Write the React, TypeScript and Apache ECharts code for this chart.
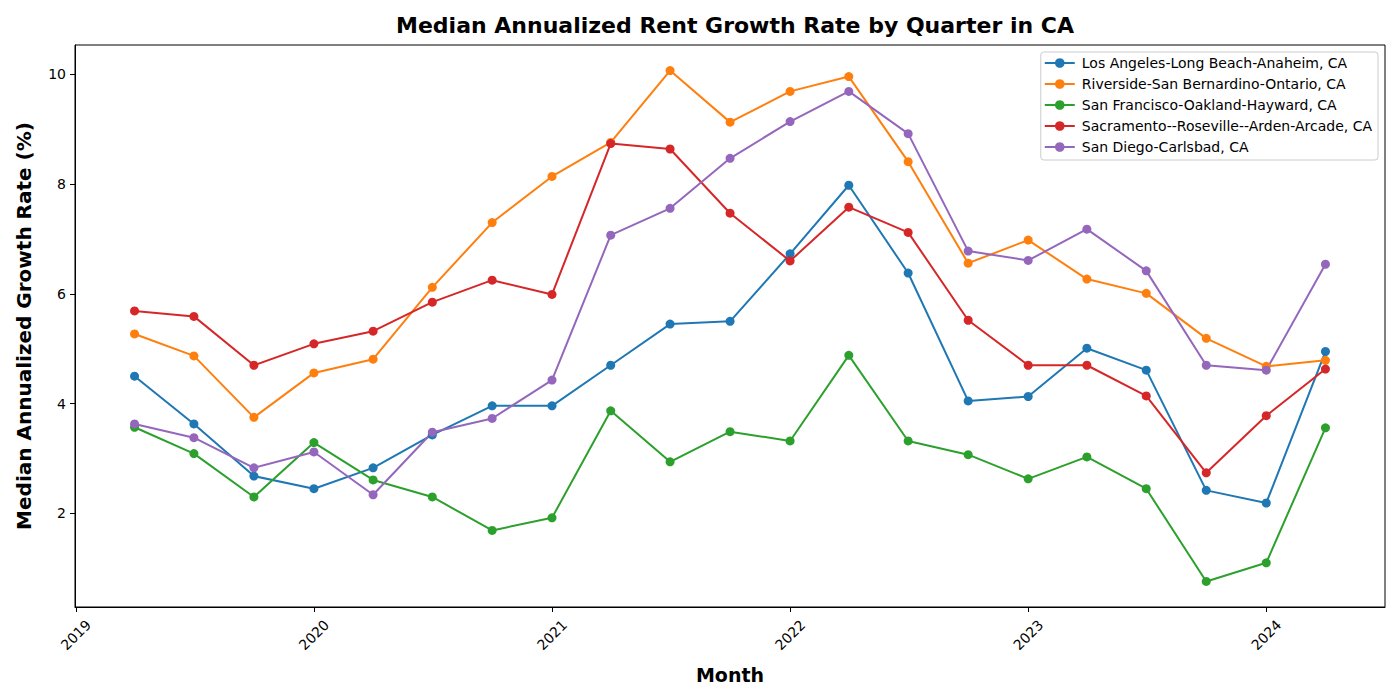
import React, { useEffect, useRef } from "react";
import * as echarts from "echarts";

const quarters = [
  "2019-04-01", "2019-07-01", "2019-10-01", "2020-01-01", "2020-04-01", "2020-07-01", "2020-10-01",
  "2021-01-01", "2021-04-01", "2021-07-01", "2021-10-01", "2022-01-01", "2022-04-01", "2022-07-01",
  "2022-10-01", "2023-01-01", "2023-04-01", "2023-07-01", "2023-10-01", "2024-01-01", "2024-04-01",
];

const seriesNames = [
  "Los Angeles-Long Beach-Anaheim, CA",
  "Riverside-San Bernardino-Ontario, CA",
  "San Francisco-Oakland-Hayward, CA",
  "Sacramento--Roseville--Arden-Arcade, CA",
  "San Diego-Carlsbad, CA",
];

const losAngeles = [4.50, 3.63, 2.68, 2.45, 2.83, 3.43, 3.96, 3.96, 4.70, 5.45, 5.50, 6.73, 7.98, 6.38, 4.05, 4.13, 5.01, 4.61, 2.42, 2.19, 4.95];
const riverside = [5.27, 4.87, 3.75, 4.56, 4.81, 6.12, 7.30, 8.14, 8.76, 10.07, 9.13, 9.69, 9.96, 8.41, 6.56, 6.98, 6.27, 6.01, 5.19, 4.68, 4.79];
const sanFrancisco = [3.57, 3.09, 2.30, 3.29, 2.61, 2.30, 1.69, 1.92, 3.87, 2.94, 3.49, 3.32, 4.88, 3.32, 3.07, 2.63, 3.03, 2.45, 0.76, 1.10, 3.56];
const sacramento = [5.69, 5.59, 4.70, 5.09, 5.32, 5.85, 6.25, 5.99, 8.74, 8.64, 7.47, 6.60, 7.58, 7.12, 5.52, 4.70, 4.70, 4.14, 2.74, 3.78, 4.63];
const sanDiego = [3.63, 3.38, 2.83, 3.12, 2.34, 3.48, 3.73, 4.43, 7.07, 7.56, 8.47, 9.14, 9.69, 8.92, 6.78, 6.61, 7.18, 6.42, 4.70, 4.61, 6.54];

const xTickLabels = ["2019", "2020", "2021", "2022", "2023", "2024"];
const yTickValues = [2, 4, 6, 8, 10];

const colors = ["#1f77b4", "#ff7f0e", "#2ca02c", "#d62728", "#9467bd"];
const FONT = "DejaVu Sans";

// date string -> fractional year (e.g. 2019-04-01 -> 2019.246)
function toYear(d: string): number {
  const t = Date.parse(d);
  const y = new Date(t).getUTCFullYear();
  const start = Date.UTC(y, 0, 1);
  const end = Date.UTC(y + 1, 0, 1);
  return y + (t - start) / (end - start);
}

export default function App() {
  const ref = useRef<HTMLDivElement>(null);

  useEffect(() => {
    if (!ref.current) return;
    const chart = echarts.init(ref.current, null, { renderer: "svg" });

    const allSeries = [losAngeles, riverside, sanFrancisco, sacramento, sanDiego];
    const xs = quarters.map(toYear);
    const xMin = Math.min(...xs);
    const xMax = Math.max(...xs);
    const xPad = (xMax - xMin) * 0.05;
    const allVals = allSeries.flat();
    const vMin = Math.min(...allVals);
    const vMax = Math.max(...allVals);
    const vPad = (vMax - vMin) * 0.05;
    const xTicks = xTickLabels.map((y) => Number(y));

    chart.setOption({
      animation: false,
      backgroundColor: "#ffffff",
      color: colors,
      title: {
        text: "Median Annualized Rent Growth Rate by Quarter in CA",
        left: 730,
        textAlign: "center",
        top: 9,
        textStyle: { fontFamily: FONT, fontSize: 22, fontWeight: "bold", color: "#000" },
      },
      grid: {
        left: 75,
        right: 15,
        top: 45,
        bottom: 93,
        show: true,
        borderColor: "#000",
        borderWidth: 1,
        backgroundColor: "transparent",
      },
      legend: {
        orient: "vertical",
        right: 22,
        top: 52,
        itemWidth: 30,
        itemHeight: 12,
        itemGap: 7,
        padding: [4, 6, 6, 3],
        backgroundColor: "#fff",
        borderColor: "#cccccc",
        borderWidth: 1,
        borderRadius: 3,
        textStyle: { fontFamily: FONT, fontSize: 14, color: "#000", padding: [0, 0, 0, 2] },
        data: seriesNames,
      },
      xAxis: {
        type: "value",
        min: xMin - xPad,
        max: xMax + xPad,
        name: "Month",
        nameLocation: "middle",
        nameGap: 58,
        nameTextStyle: { fontFamily: FONT, fontSize: 19, fontWeight: "bold", color: "#000" },
        axisLine: { show: true, onZero: false, lineStyle: { color: "#000", width: 1 } },
        axisTick: { show: true, length: 5, lineStyle: { color: "#000" }, customValues: xTicks },
        splitLine: { show: false },
        axisLabel: {
          customValues: xTicks,
          rotate: 45,
          align: "center",
          verticalAlign: "middle",
          margin: 28,
          fontFamily: FONT,
          fontSize: 14,
          color: "#000",
          formatter: (v: number) => String(Math.round(v)),
        },
      },
      yAxis: {
        type: "value",
        min: vMin - vPad,
        max: vMax + vPad,
        name: "Median Annualized Growth Rate (%)",
        nameLocation: "middle",
        nameGap: 41,
        nameTextStyle: { fontFamily: FONT, fontSize: 20, fontWeight: "bold", color: "#000" },
        axisLine: { show: true, onZero: false, lineStyle: { color: "#000", width: 1 } },
        axisTick: { show: true, length: 5, lineStyle: { color: "#000" }, customValues: yTickValues },
        splitLine: { show: false },
        axisLabel: {
          customValues: yTickValues,
          margin: 9,
          fontFamily: FONT,
          fontSize: 14,
          color: "#000",
        },
      },
      series: allSeries.map((vals, i) => ({
        name: seriesNames[i],
        type: "line",
        data: vals.map((v, j) => [xs[j], v]),
        symbol: "circle",
        symbolSize: 9,
        showSymbol: true,
        lineStyle: { width: 2, color: colors[i] },
        itemStyle: { color: colors[i] },
      })),
    });

    return () => chart.dispose();
  }, []);

  return <div ref={ref} style={{ width: 1400, height: 700, margin: -8 }} />;
}
